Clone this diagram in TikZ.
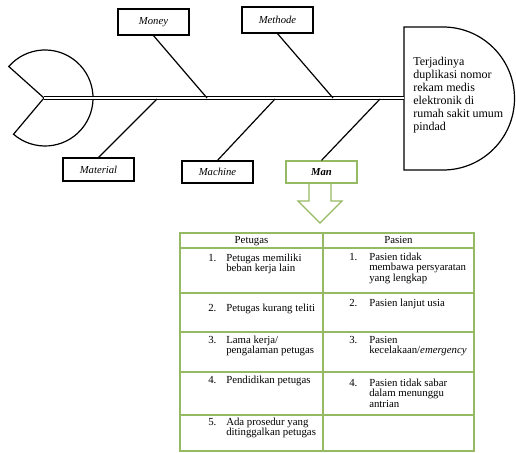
\documentclass[tikz,border=0pt]{standalone}
\usepackage{fontspec}
\setmainfont{Liberation Serif}
\definecolor{tabgreen}{RGB}{150,185,100}
\newcommand\fbitem[3]{\begin{tabular}[t]{@{}p{#1}@{}l@{}}#2&#3\end{tabular}}
\tikzset{
  causebox/.style={draw=black, line width=0.9pt, minimum width=53.25pt, inner sep=0pt, font=\fontsize{8}{9}\selectfont\itshape},
  greenbox/.style={draw=tabgreen, line width=0.9pt, minimum width=53.25pt, inner sep=0pt, font=\fontsize{8}{9}\selectfont\bfseries\itshape},
  bone/.style={draw=black, line width=0.9pt},
  fishline/.style={draw=black, line width=0.9pt},
  tabline/.style={draw=tabgreen, line width=0.9pt},
  tabtxt/.style={inner sep=0pt, font=\fontsize{8.1}{8}\selectfont},
  headtxt/.style={inner sep=0pt, font=\fontsize{9}{9.75}\selectfont, align=left}
}
\begin{document}
\begin{tikzpicture}[x=0.75pt,y=-0.75pt]
\useasboundingbox (0,0) rectangle (516,452);
% tail
\coordinate (tail) at (44,98);
\coordinate (headL) at (404,98);
\draw[fishline] (tail) -- (8.8,66.5) arc[start angle=-139,end angle=131,radius=48] -- cycle;
% head
\draw[fishline] (404,27) -- (443,27) arc[start angle=-90,end angle=90,radius=71.5] -- (404,170) -- cycle;
\node[headtxt, anchor=base west] (effect) at (413,66) {\begin{tabular}[t]{@{}l@{}}Terjadinya\\duplikasi nomor\\rekam medis\\elektronik di\\rumah sakit umum\\pindad\end{tabular}};
% spine
\draw[black, line width=0.8pt, double=white, double distance=1.3pt] (tail) -- (headL);
% spine points
\coordinate (pMoney) at (207,98);
\coordinate (pMethode) at (333,98);
\coordinate (pMaterial) at (157,99);
\coordinate (pMachine) at (275,99);
\coordinate (pMan) at (380,99);
% cause boxes
\node[causebox, minimum height=19.5pt] (money) at (153.5,22) {Money};
\node[causebox, minimum height=19.5pt] (methode) at (277.5,20) {Methode};
\node[causebox, minimum height=17.25pt] (material) at (98.5,169.5) {Material};
\node[causebox, minimum height=16.5pt] (machine) at (217.5,172) {Machine};
\node[greenbox, minimum height=16.5pt] (man) at (321.5,172) {Man};
\draw[bone] (money.south) -- (pMoney);
\draw[bone] (methode.south) -- (pMethode);
\draw[bone] (material.north) -- (pMaterial);
\draw[bone] (machine.north) -- (pMachine);
\draw[bone] (man.north) -- (pMan);
% arrow
\draw[tabline] (309,183) -- (309,201) -- (298,201) -- (320,223) -- (342,201) -- (331,201) -- (331,183);
% table
\draw[tabline] (180,233) rectangle (474,451);
\draw[tabline] (323,233) -- (323,451);
\foreach \yy in {248,293,332,372,415} \draw[tabline] (180,\yy) -- (474,\yy);
\node[tabtxt, anchor=base] (hPet) at (251.5,243) {Petugas};
\node[tabtxt, anchor=base] (hPas) at (398.5,243) {Pasien};
% left column
\node[tabtxt, anchor=base west] (l1) at (208,261) {\fbitem{13.5pt}{1.}{Petugas memiliki\\&beban kerja lain}};
\node[tabtxt, anchor=base west] (l2) at (208,311) {\fbitem{13.5pt}{2.}{Petugas kurang teliti}};
\node[tabtxt, anchor=base west] (l3) at (208,343) {\fbitem{13.5pt}{3.}{Lama kerja/\\&pengalaman petugas}};
\node[tabtxt, anchor=base west] (l4) at (208,383) {\fbitem{13.5pt}{4.}{Pendidikan petugas}};
\node[tabtxt, anchor=base west] (l5) at (208,425) {\fbitem{13.5pt}{5.}{Ada prosedur yang\\&ditinggalkan petugas}};
% right column
\node[tabtxt, anchor=base west] (r1) at (349,260) {\fbitem{15pt}{1.}{Pasien tidak\\&membawa persyaratan\\&yang lengkap}};
\node[tabtxt, anchor=base west] (r2) at (349,306) {\fbitem{15pt}{2.}{Pasien lanjut usia}};
\node[tabtxt, anchor=base west] (r3) at (349,343) {\fbitem{15pt}{3.}{Pasien\\&kecelakaan/\emph{emergency}}};
\node[tabtxt, anchor=base west] (r4) at (349,386) {\fbitem{15pt}{4.}{Pasien tidak sabar\\&dalam menunggu\\&antrian}};
\end{tikzpicture}
\end{document}
